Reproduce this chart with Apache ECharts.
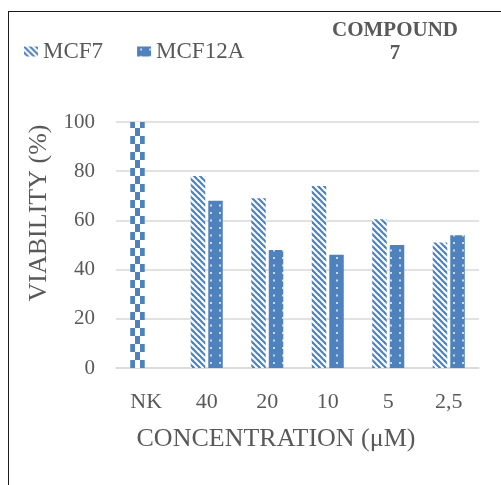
<!DOCTYPE html>
<html>
<head>
<meta charset="utf-8">
<script src="https://cdn.jsdelivr.net/npm/echarts@6/dist/echarts.min.js"></script>
<style>
  html, body { margin: 0; padding: 0; background: #fff; overflow: hidden; }
  #frame { position: absolute; left: 8px; top: 11px; width: 700px; height: 700px;
           border: 1.3px solid #1a1a1a; box-sizing: border-box; }
  #chart { position: absolute; left: 0; top: 0; width: 501px; height: 485px; }
</style>
</head>
<body>
<div id="frame"></div>
<div id="chart"></div>
<script>
// Concentrations of compound 7 (µM); NK = untreated control
const categories = ['NK', '40', '20', '10', '5', '2,5'];
// Cell viability (%) per cell line
const mcf7Values = [100, 78, 69, 74, 60.5, 51];
const mcf12aValues = [null, 68, 48, 46, 50, 54];
const yTicks = { min: 0, max: 100, interval: 20 };

const BLUE = '#4f81bd';
const TEXT = '#595959';
const FONT = '"Liberation Serif", "Times New Roman", serif';

// Fill patterns
function makeTile(w, h, draw) {
  const c = document.createElement('canvas');
  c.width = w; c.height = h;
  draw(c.getContext('2d'), w, h);
  return { image: c, repeat: 'repeat' };
}

// diagonal stripes running down to the right
const stripes = makeTile(6, 6, (ctx, w, h) => {
  ctx.fillStyle = '#fff';
  ctx.fillRect(0, 0, w, h);
  ctx.strokeStyle = BLUE;
  ctx.lineWidth = 2.2;
  for (let k = -1; k <= 1; k++) {
    ctx.beginPath();
    ctx.moveTo(k * w - 1, -1);
    ctx.lineTo(k * w + w + 1, h + 1);
    ctx.stroke();
  }
});

// solid fill with small light dots
const dots = makeTile(9, 15, (ctx, w, h) => {
  ctx.fillStyle = BLUE;
  ctx.fillRect(0, 0, w, h);
  ctx.fillStyle = 'rgba(255,255,255,0.7)';
  ctx.fillRect(3, 2, 2, 2);
  ctx.fillRect(3, 9.5, 2, 2);
});

// checkerboard for the control bar
const checker = makeTile(10, 16, (ctx, w, h) => {
  ctx.fillStyle = '#fff';
  ctx.fillRect(0, 0, w, h);
  ctx.fillStyle = BLUE;
  ctx.fillRect(5, 0, 5, 8);
  ctx.fillRect(0, 8, 5, 8);
});

const mcf7Data = mcf7Values.map((v, i) =>
  categories[i] === 'NK' ? { value: v, itemStyle: { color: checker } } : v);

const chart = echarts.init(document.getElementById('chart'), null, { renderer: 'canvas' });
chart.setOption({
  animation: false,
  backgroundColor: 'transparent',
  title: {
    text: 'COMPOUND\n7',
    left: 390,
    top: 14,
    textAlign: 'center',
    textStyle: { fontFamily: FONT, fontSize: 21, fontWeight: 'bold', color: TEXT, lineHeight: 23 }
  },
  legend: {
    left: 19,
    top: 35,
    icon: 'rect',
    itemWidth: 14,
    itemHeight: 10,
    itemGap: 34,
    textStyle: { fontFamily: FONT, fontSize: 23, color: TEXT },
    data: ['MCF7', 'MCF12A']
  },
  grid: { left: 116, right: 22, top: 122, bottom: 117, containLabel: false },
  xAxis: {
    type: 'category',
    data: categories,
    axisTick: { show: false },
    axisLine: { lineStyle: { color: '#d9d9d9', width: 1.5 } },
    axisLabel: { fontFamily: FONT, fontSize: 22, color: TEXT, margin: 23 },
    name: 'CONCENTRATION (μM)',
    nameLocation: 'middle',
    nameGap: 58,
    nameTextStyle: { fontFamily: FONT, fontSize: 26, color: TEXT, padding: [0, 43, 0, 0] }
  },
  yAxis: {
    type: 'value',
    min: yTicks.min,
    max: yTicks.max,
    interval: yTicks.interval,
    axisLine: { show: false },
    axisTick: { show: false },
    splitLine: { lineStyle: { color: '#d9d9d9', width: 1.5 } },
    axisLabel: { fontFamily: FONT, fontSize: 21, color: TEXT, margin: 21 },
    name: 'VIABILITY (%)',
    nameLocation: 'middle',
    nameGap: 64,
    nameTextStyle: { fontFamily: FONT, fontSize: 26, color: TEXT, padding: [0, 0, 0, 64] }
  },
  series: [
    {
      name: 'MCF7',
      type: 'bar',
      data: mcf7Data,
      barWidth: 14.5,
      barGap: '21%',
      itemStyle: { color: stripes }
    },
    {
      name: 'MCF12A',
      type: 'bar',
      data: mcf12aValues,
      barWidth: 14.5,
      itemStyle: { color: dots }
    }
  ]
});
</script>
</body>
</html>
